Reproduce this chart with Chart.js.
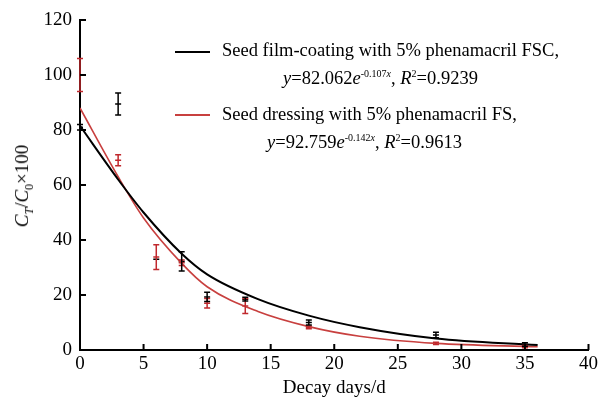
<!DOCTYPE html>
<html lang="en">
  <head>
    <meta charset="UTF-8" />
    <title>Decay of phenamacril</title>
    <style>
      body {
        margin: 0;
        background: #fff;
        font-family: "Liberation Serif", serif;
      }
      .wrap {
        position: relative;
        width: 601px;
        height: 401px;
      }
      .legend-line {
        position: absolute;
        height: 0;
      }
      .legend-text {
        position: absolute;
        font-size: 18.5px;
        line-height: 18px;
        white-space: nowrap;
        color: #000;
      }
      .legend-text sup {
        font-size: 10px;
        vertical-align: 7px;
        line-height: 0;
      }
      .ytitle {
        position: absolute;
        left: 22px;
        top: 186px;
        transform: translate(-50%, -50%) rotate(-90deg);
        font-size: 19px;
        white-space: nowrap;
      }
      .ytitle sub {
        font-size: 12px;
        line-height: 0;
      }
    </style>
  </head>
  <body>
    <div class="wrap">
      <canvas id="decayChart" width="601" height="401"></canvas>
      <div class="ytitle"><i>C</i><sub><i>T</i></sub>/<i>C</i><sub>0</sub>×100</div>

      <div class="legend-line" style="left:175px;top:51px;width:35px;border-top:2px solid #000"></div>
      <div class="legend-text" style="left:222px;top:41px">Seed film-coating with 5% phenamacril FSC,</div>
      <div class="legend-text" style="left:283px;top:69px"><i>y</i>=82.062<i>e</i><sup>-0.107<i>x</i></sup>, <i>R</i><sup>2</sup>=0.9239</div>

      <div class="legend-line" style="left:175px;top:114px;width:35px;border-top:2px solid #c8403f"></div>
      <div class="legend-text" style="left:222px;top:105px">Seed dressing with 5% phenamacril FS,</div>
      <div class="legend-text" style="left:267px;top:133px"><i>y</i>=92.759<i>e</i><sup>-0.142<i>x</i></sup>, <i>R</i><sup>2</sup>=0.9613</div>
    </div>

    <script src="https://cdn.jsdelivr.net/npm/chart.js"></script>
    <script>
      // measured days
      const days = [0, 3, 6, 8, 10, 13, 18, 28, 35];

      // film-coating FSC (black)
      const fscMean = [81, 89.5, 33, 32.2, 19.3, 18.5, 10, 5.5, 2];
      const fscErr = [1, 4, 0, 3.5, 1.7, 0.7, 0.9, 1, 0.6];

      // dressing FS (red)
      const fsMean = [100, 69, 33.8, 31.7, 17, 16, 8.2, 2.4, 1.2];
      const fsErr = [6, 2, 4.5, 1, 1.7, 2.7, 0.5, 0.4, 0.4];

      // fitted curves
      const curveX = [0, 3, 5, 8, 10, 14, 18, 22, 28, 36];
      const fscCurve = [81.5, 62, 50, 35, 27.5, 18.5, 12.5, 8.3, 4.2, 1.8];
      const fsCurve = [88, 63, 48, 31.5, 23, 14, 8.5, 5, 2.4, 1.2];

      const xTicks = [0, 5, 10, 15, 20, 25, 30, 35, 40];
      const yTicks = [0, 20, 40, 60, 80, 100, 120];

      const black = "#000000";
      const red = "#c8403f";
      const barRed = "#c0282d";

      const pts = (xs, ys) => xs.map((x, i) => ({ x: x, y: ys[i] }));

      // error bars + inward ticks
      const extras = {
        id: "extras",
        afterDatasetsDraw(chart) {
          const ctx = chart.ctx;
          const xs = chart.scales.x;
          const ys = chart.scales.y;
          ctx.save();
          const bars = [
            [fsMean, fsErr, barRed],
            [fscMean, fscErr, black],
          ];
          ctx.lineWidth = 1.5;
          for (const [mean, err, col] of bars) {
            ctx.strokeStyle = col;
            days.forEach((d, i) => {
              if (!err[i]) return;
              const px = xs.getPixelForValue(d);
              const top = ys.getPixelForValue(mean[i] + err[i]);
              const bot = ys.getPixelForValue(mean[i] - err[i]);
              ctx.beginPath();
              ctx.moveTo(px, top);
              ctx.lineTo(px, bot);
              ctx.moveTo(px - 3, top);
              ctx.lineTo(px + 3, top);
              ctx.moveTo(px - 3, bot);
              ctx.lineTo(px + 3, bot);
              ctx.stroke();
            });
          }
          // inward tick marks
          ctx.strokeStyle = "#000";
          ctx.lineWidth = 2;
          ctx.beginPath();
          xs.ticks.forEach((t) => {
            const px = xs.getPixelForValue(t.value);
            ctx.moveTo(px, xs.top);
            ctx.lineTo(px, xs.top - 6);
          });
          ys.ticks.forEach((t) => {
            const py = ys.getPixelForValue(t.value);
            ctx.moveTo(ys.right, py);
            ctx.lineTo(ys.right + 6, py);
          });
          ctx.stroke();
          ctx.restore();
        },
      };

      const tickFont = { family: "Liberation Serif", size: 19 };

      new Chart(document.getElementById("decayChart"), {
        type: "scatter",
        data: {
          datasets: [
            {
              data: pts(curveX, fscCurve),
              showLine: true,
              borderColor: black,
              borderWidth: 2,
              pointRadius: 0,
              cubicInterpolationMode: "monotone",
            },
            {
              data: pts(curveX, fsCurve),
              showLine: true,
              borderColor: red,
              borderWidth: 1.6,
              pointRadius: 0,
              cubicInterpolationMode: "monotone",
            },
            {
              data: pts(days, fsMean),
              pointStyle: "line",
              pointRadius: 3,
              borderColor: barRed,
              borderWidth: 1.5,
            },
            {
              data: pts(days, fscMean),
              pointStyle: "line",
              pointRadius: 3,
              borderColor: black,
              borderWidth: 1.5,
            },
          ],
        },
        options: {
          responsive: false,
          animation: false,
          events: [],
          layout: { padding: { left: 0, right: 11, top: 20, bottom: 0 } },
          plugins: { legend: { display: false }, tooltip: { enabled: false } },
          scales: {
            x: {
              type: "linear",
              min: 0,
              max: 40,
              afterBuildTicks: (s) => {
                s.ticks = xTicks.map((v) => ({ value: v }));
              },
              afterFit: (s) => {
                s.height = 51;
              },
              grid: { display: false, drawTicks: false },
              border: { display: true, color: "#000", width: 2 },
              ticks: { color: "#000", font: tickFont, padding: 3, maxRotation: 0 },
              title: {
                display: true,
                text: "Decay days/d",
                color: "#000",
                font: { family: "Liberation Serif", size: 19 },
                padding: { top: 0, bottom: 2 },
              },
            },
            y: {
              type: "linear",
              min: 0,
              max: 120,
              afterBuildTicks: (s) => {
                s.ticks = yTicks.map((v) => ({ value: v }));
              },
              afterFit: (s) => {
                s.width = 80;
              },
              grid: { display: false, drawTicks: false },
              border: { display: true, color: "#000", width: 2 },
              ticks: { color: "#000", font: tickFont, padding: 8 },
            },
          },
        },
        plugins: [extras],
      });
    </script>
  </body>
</html>
